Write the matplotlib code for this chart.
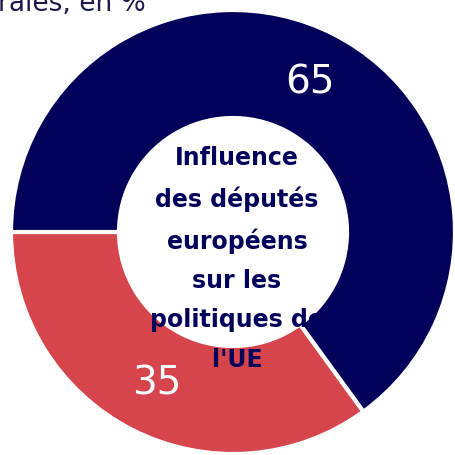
import matplotlib
matplotlib.use('Agg')
import matplotlib.pyplot as plt

# share of answers, in %
labels = ['Faible', 'Forte']
values = [35, 65]
colors = ['#d6454b', '#00005a']
centre_text = "Influence\ndes députés\neuropéens\nsur les\npolitiques de\nl'UE"
subtitle = "générales, en %"

W = 456
fig = plt.figure(figsize=(4.56, 4.56), dpi=100)
ax = fig.add_axes([0, 0, 1, 1])

cx, cy = 233, W - 233
r_out, r_in = 222, 114

wedges, texts, autotexts = ax.pie(
    values, colors=colors, startangle=180, counterclock=True,
    center=(cx, cy), radius=r_out, autopct='%.0f', pctdistance=0.76,
    wedgeprops=dict(width=r_out - r_in, edgecolor='white', linewidth=3),
    textprops=dict(color='white', fontsize=28))

ax.text(237, W - 259, centre_text, ha='center', va='center',
        fontsize=17, fontweight='bold', color='#00005a', linespacing=1.8)

ax.text(146, W - 11, subtitle, ha='right', va='baseline',
        fontsize=19, color='#1a1a4a')

ax.set_xlim(0, W)
ax.set_ylim(0, W)
ax.set_aspect('equal')
ax.axis('off')

plt.savefig('out.png', dpi=100)
